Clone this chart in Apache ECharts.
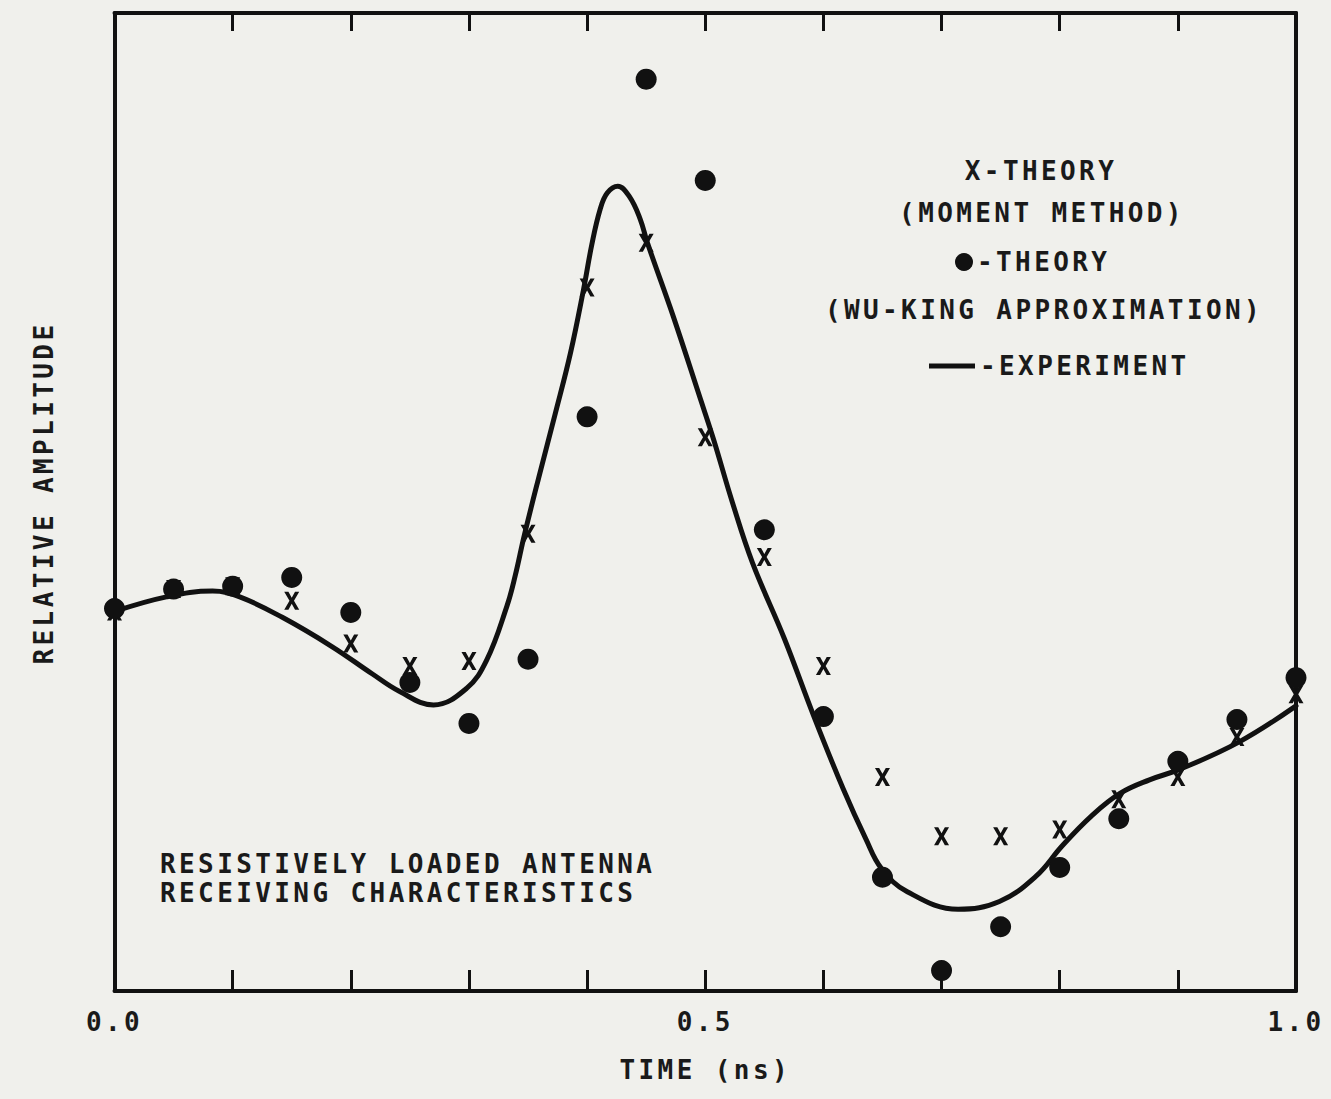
<!DOCTYPE html>
<html>
<head>
<meta charset="utf-8">
<title>Resistively loaded antenna receiving characteristics</title>
<script src="https://cdn.jsdelivr.net/npm/echarts@6/dist/echarts.min.js"></script>
<style>
  html, body { margin: 0; padding: 0; background: #f0f0ec; }
  #chart { width: 1331px; height: 1099px; }
  #chart svg text { letter-spacing: 3.4px; }
</style>
</head>
<body>
<div id="chart"></div>
<script>
// ---- data ----
const sampleTimes = [0.00, 0.05, 0.10, 0.15, 0.20, 0.25, 0.30, 0.35, 0.40, 0.45, 0.50,
                     0.55, 0.60, 0.65, 0.70, 0.75, 0.80, 0.85, 0.90, 0.95, 1.00];
const momentMethod = [39.0, 41.3, 41.6, 40.1, 35.7, 33.4, 33.9, 47.0, 72.3, 76.9, 56.9,
                      44.6, 33.4, 22.0, 15.9, 15.9, 16.6, 19.7, 22.0, 26.1, 30.5];
const wuKing = [39.3, 41.3, 41.6, 42.5, 38.9, 31.7, 27.5, 34.1, 59.0, 93.7, 83.3,
                47.4, 28.2, 11.7, 2.1, 6.6, 12.7, 17.7, 23.6, 27.9, 32.2];
const expTime = [0.000, 0.044, 0.083, 0.106, 0.142, 0.184, 0.218, 0.241, 0.270,
                 0.298, 0.315, 0.332, 0.339, 0.347, 0.360, 0.373, 0.386, 0.397, 0.404, 0.411,
                 0.417, 0.426, 0.436, 0.445, 0.451, 0.473, 0.496, 0.507, 0.523, 0.540,
                 0.567, 0.592, 0.617, 0.636, 0.649, 0.671, 0.714, 0.749, 0.780, 0.802, 0.827,
                 0.851, 0.876, 0.902, 0.952, 1.000];
const expAmp = [39.0, 40.5, 41.1, 40.5, 38.4, 35.4, 32.6, 30.8, 29.4,
                31.1, 34.0, 39.5, 42.6, 46.9, 53.2, 59.3, 65.6, 72.1, 76.7, 80.3,
                82.0, 82.7, 81.6, 79.3, 76.9, 69.3, 60.8, 56.7, 50.2, 44.0,
                36.2, 28.2, 20.7, 15.6, 12.6, 10.2, 8.4, 9.2, 11.8, 14.9, 18.0,
                20.3, 21.7, 22.8, 25.6, 29.3];
const tickLabelValues = [0.0, 0.5, 1.0];
const tickLabels = ['0.0', '0.5', '1.0'];

// ---- chart ----
const FONT = '"DejaVu Sans Mono", "Liberation Mono", monospace';
const INK = '#111111';
const TXT = '#1a1a1a';
const FS = 26;
const FW = 'bold';

function pairs(xs, ys) { return xs.map((x, i) => [x, ys[i]]); }

const chart = echarts.init(document.getElementById('chart'), null, { renderer: 'svg' });

const xMark = 'path://M0,0 L2.8,0 L5,3.3 L7.2,0 L10,0 L6.5,5 L10,10 L7.2,10 L5,6.7 L2.8,10 L0,10 L3.5,5 Z';

function txt(text, x, y, align) {
  return {
    type: 'text', x: x, y: y, z: 10,
    style: {
      text: text, fill: TXT, font: FW + ' ' + FS + 'px ' + FONT,
      textAlign: align, textVerticalAlign: 'middle',
      align: align, verticalAlign: 'middle'
    }
  };
}

const frameLine = { show: true, onZero: false, lineStyle: { color: INK, width: 4 } };

const option = {
  backgroundColor: '#f0f0ec',
  animation: false,
  grid: { left: 114.5, right: 35, top: 13, bottom: 108, show: false },
  xAxis: [
    {
      type: 'value', position: 'bottom', min: 0, max: 1, interval: 0.1,
      axisLine: frameLine,
      axisTick: { show: true, inside: true, length: 21, lineStyle: { color: INK, width: 3 } },
      axisLabel: {
        show: true, margin: 18, color: TXT, fontFamily: FONT, fontSize: FS, fontWeight: FW,
        formatter: function (v) {
          for (let i = 0; i < tickLabelValues.length; i++) {
            if (Math.abs(v - tickLabelValues[i]) < 1e-9) return tickLabels[i];
          }
          return '';
        }
      },
      splitLine: { show: false },
      name: 'TIME (ns)', nameLocation: 'middle', nameGap: 66,
      nameTextStyle: { color: TXT, fontFamily: FONT, fontSize: FS, fontWeight: FW }
    },
    {
      type: 'value', position: 'top', min: 0, max: 1, interval: 0.1,
      axisLine: frameLine,
      axisTick: { show: true, inside: true, length: 18, lineStyle: { color: INK, width: 3 } },
      axisLabel: { show: false },
      splitLine: { show: false }
    }
  ],
  yAxis: [
    {
      type: 'value', position: 'left', min: 0, max: 100.5,
      axisLine: frameLine,
      axisTick: { show: false }, axisLabel: { show: false }, splitLine: { show: false },
      name: 'RELATIVE AMPLITUDE', nameLocation: 'middle', nameGap: 58, nameRotate: 90,
      nameTextStyle: { color: TXT, fontFamily: FONT, fontSize: FS, fontWeight: FW, padding: [0, 0, 0, 18] }
    },
    {
      type: 'value', position: 'right', min: 0, max: 100.5,
      axisLine: frameLine,
      axisTick: { show: false }, axisLabel: { show: false }, splitLine: { show: false }
    }
  ],
  series: [
    {
      name: 'EXPERIMENT', type: 'line', xAxisIndex: 0, yAxisIndex: 0,
      data: pairs(expTime, expAmp), smooth: 0.4, showSymbol: false,
      lineStyle: { color: INK, width: 5, join: 'round', cap: 'round' }, z: 2
    },
    {
      name: 'THEORY (MOMENT METHOD)', type: 'scatter', xAxisIndex: 0, yAxisIndex: 0,
      data: pairs(sampleTimes, momentMethod), symbol: xMark, symbolSize: [15, 18],
      itemStyle: { color: INK, opacity: 1 }, z: 3
    },
    {
      name: 'THEORY (WU-KING APPROXIMATION)', type: 'scatter', xAxisIndex: 0, yAxisIndex: 0,
      data: pairs(sampleTimes, wuKing), symbol: 'circle', symbolSize: 21,
      itemStyle: { color: INK, opacity: 1 }, z: 4
    }
  ],
  graphic: [
    txt('X-THEORY', 1041, 171, 'center'),
    txt('(MOMENT METHOD)', 1042, 213, 'center'),
    { type: 'circle', z: 10, shape: { cx: 964, cy: 262, r: 9 }, style: { fill: INK } },
    txt('-THEORY', 977, 262, 'left'),
    txt('(WU-KING APPROXIMATION)', 1044, 310, 'center'),
    { type: 'line', z: 10, shape: { x1: 929, y1: 366, x2: 975, y2: 366 }, style: { stroke: INK, lineWidth: 5 } },
    txt('-EXPERIMENT', 980, 366, 'left'),
    txt('RESISTIVELY LOADED ANTENNA', 160, 864, 'left'),
    txt('RECEIVING CHARACTERISTICS', 160, 893, 'left')
  ]
};

chart.setOption(option);
</script>
</body>
</html>
